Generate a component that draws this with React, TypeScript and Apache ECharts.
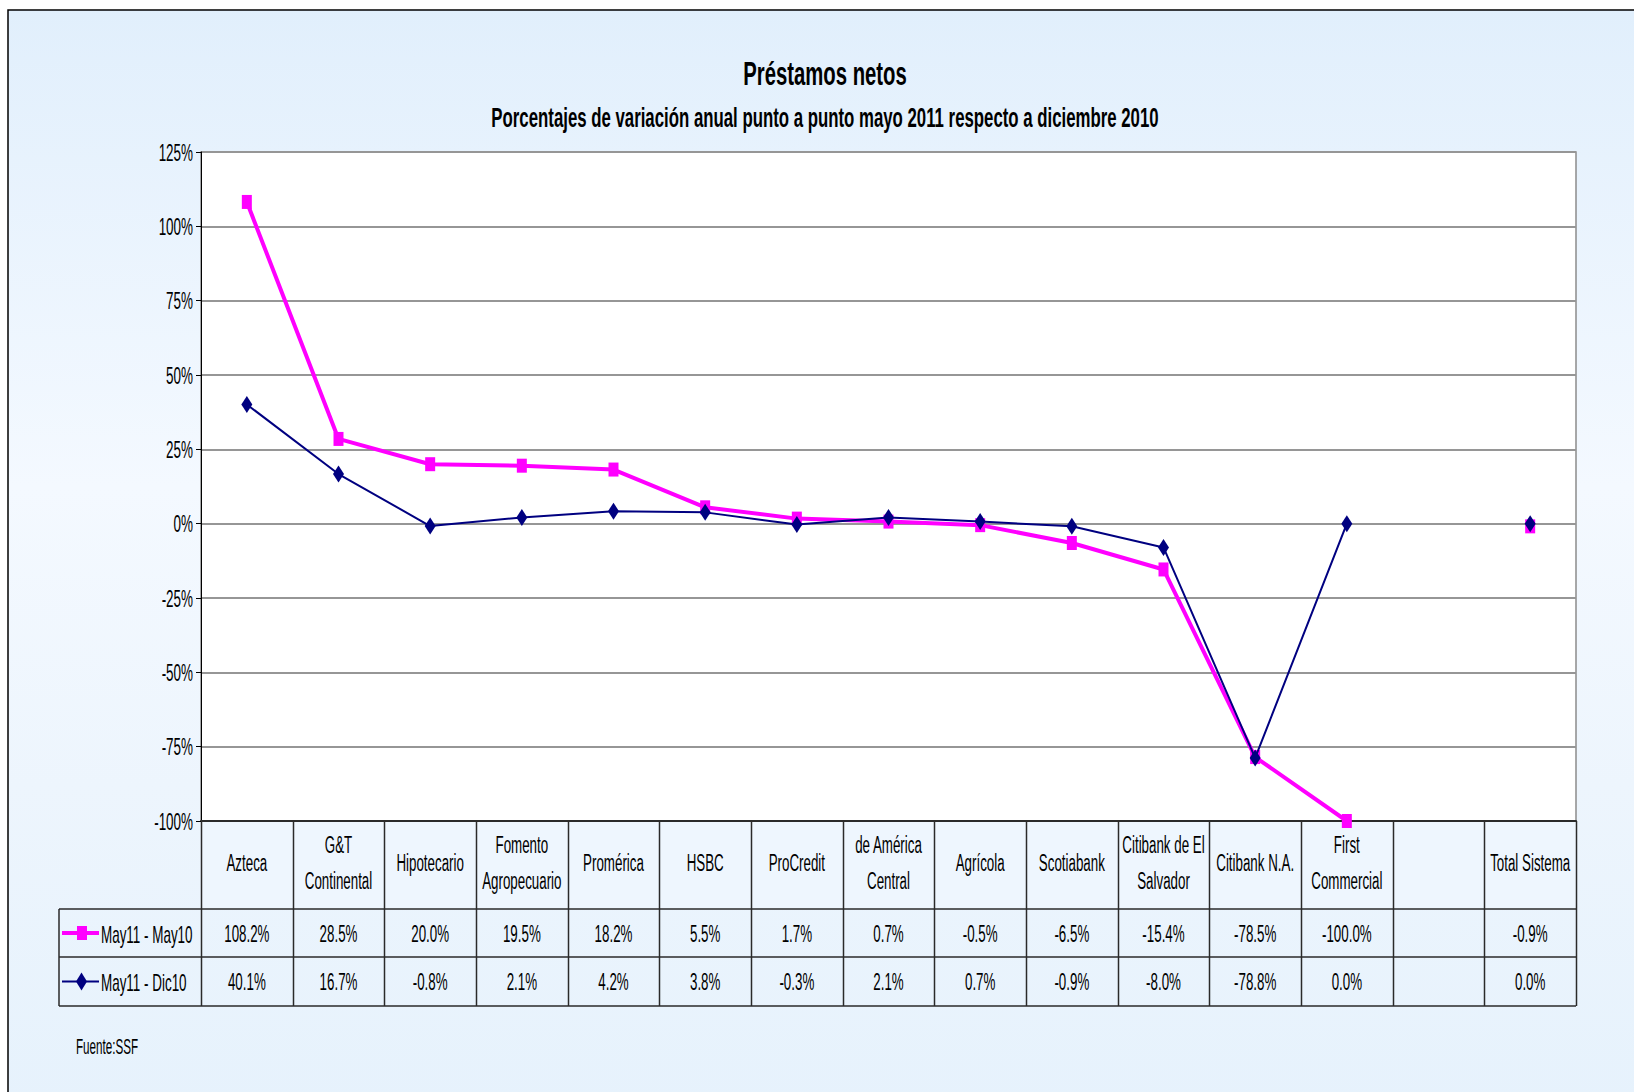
import React, { useEffect, useRef } from "react";
import * as echarts from "echarts";

const categories = [
  "Azteca",
  "G&T\nContinental",
  "Hipotecario",
  "Fomento\nAgropecuario",
  "Promérica",
  "HSBC",
  "ProCredit",
  "de América\nCentral",
  "Agrícola",
  "Scotiabank",
  "Citibank de El\nSalvador",
  "Citibank N.A.",
  "First\nCommercial",
  "",
  "Total Sistema",
];
const seriesNames = ["May11 - May10", "May11 - Dic10"];
const may11May10 = [108.2, 28.5, 20.0, 19.5, 18.2, 5.5, 1.7, 0.7, -0.5, -6.5, -15.4, -78.5, -100.0, null, -0.9];
const may11Dic10 = [40.1, 16.7, -0.8, 2.1, 4.2, 3.8, -0.3, 2.1, 0.7, -0.9, -8.0, -78.8, 0.0, null, 0.0];
const yTicks = [125, 100, 75, 50, 25, 0, -25, -50, -75, -100];
const yMin = -100;
const yMax = 125;
const yStep = 25;
const titleText = "Préstamos netos";
const subtitleText = "Porcentajes de variación anual punto a punto mayo 2011 respecto a diciembre 2010";
const sourceText = "Fuente:SSF";

const FONT = "'Liberation Sans', Arial, sans-serif";
const SX = 0.58;
const MAGENTA = "#FF00FF";
const NAVY = "#000080";

const W = 1634;
const H = 1092;
const GL = 201;
const GR = 1576;
const GT = 152;
const GB = 821;
const ROW1 = 909;
const ROW2 = 957;
const ROW3 = 1006;
const TL = 59;

const fmt = (v: number | null) => (v === null || v === undefined ? "" : v.toFixed(1) + "%");

function txt(text: string, x: number, y: number, size: number, align: string, bold = false, sx = SX, lh?: number) {
  return {
    type: "text",
    silent: true,
    x,
    y,
    scaleX: sx,
    z: 50,
    style: {
      text,
      font: `${bold ? "bold " : ""}${size}px ${FONT}`,
      fill: "#000",
      align,
      verticalAlign: "middle",
      lineHeight: lh || Math.round(size * 1.2),
    },
  };
}

export default function App() {
  const ref = useRef<HTMLDivElement>(null);
  useEffect(() => {
    document.body.style.margin = "0";
    const chart = echarts.init(ref.current!, null, { renderer: "svg" });
    const n = categories.length;

    chart.setOption({
      animation: false,
      backgroundColor: "#ffffff",
      grid: {
        left: GL,
        top: GT,
        width: GR - GL,
        height: GB - GT,
        show: true,
        backgroundColor: "#ffffff",
        borderColor: "#8c8c8c",
        borderWidth: 1.5,
        containLabel: false,
      },
      xAxis: {
        type: "category",
        data: categories,
        boundaryGap: true,
        axisLine: { show: true, onZero: false, lineStyle: { color: "#2a2a2a", width: 2 } },
        axisTick: { show: false },
        axisLabel: { show: false },
        splitLine: { show: false },
      },
      yAxis: {
        type: "value",
        min: yMin,
        max: yMax,
        interval: yStep,
        axisLine: { show: true, lineStyle: { color: "#000", width: 1 } },
        axisTick: { show: true, length: 5, lineStyle: { color: "#000" } },
        axisLabel: { show: false },
        splitLine: { show: true, lineStyle: { color: "#969696", width: 2 } },
      },
      series: [
        {
          name: seriesNames[0],
          type: "line",
          data: may11May10,
          connectNulls: false,
          clip: false,
          symbol: "rect",
          symbolSize: [10, 14],
          showAllSymbol: true,
          lineStyle: { color: MAGENTA, width: 4 },
          itemStyle: { color: MAGENTA },
          z: 3,
        },
        {
          name: seriesNames[1],
          type: "line",
          data: may11Dic10,
          connectNulls: false,
          clip: false,
          symbol: "diamond",
          symbolSize: [11, 17],
          showAllSymbol: true,
          lineStyle: { color: NAVY, width: 2 },
          itemStyle: { color: NAVY },
          z: 4,
        },
      ],
    });

    const colX = categories.map((_c, i) => chart.convertToPixel({ xAxisIndex: 0 }, i) as number);
    const colW = (GR - GL) / n;
    const lineStyle = { stroke: "#2a2a2a", lineWidth: 1.5 };
    const g: any[] = [];
    g.push({
      type: "rect",
      z: -20,
      silent: true,
      shape: { x: 8, y: 10, width: W + 100, height: H + 100 },
      style: {
        fill: new echarts.graphic.LinearGradient(0, 0, 0, 1, [
          { offset: 0, color: "#E1EFFC" },
          { offset: 0.4, color: "#F4F9FF" },
          { offset: 0.65, color: "#EDF5FD" },
          { offset: 1, color: "#E4F1FC" },
        ]),
        stroke: "#000",
        lineWidth: 1.5,
      },
    });
    g.push({
      type: "rect",
      z: -15,
      silent: true,
      shape: { x: GL, y: GB, width: GR - GL, height: ROW1 - GB },
      style: { fill: "#EEF6FE" },
    });
    [ROW1, ROW2, ROW3].forEach((y) =>
      g.push({ type: "line", silent: true, shape: { x1: TL, y1: y, x2: GR, y2: y }, style: lineStyle })
    );
    g.push({ type: "line", silent: true, shape: { x1: TL, y1: ROW1, x2: TL, y2: ROW3 }, style: lineStyle });
    for (let k = 0; k <= n; k++) {
      const x = Math.round(GL + k * colW) + 0.5;
      g.push({ type: "line", silent: true, shape: { x1: x, y1: GB, x2: x, y2: ROW3 }, style: lineStyle });
    }
    // titles
    g.push(txt(titleText, W / 2 + 8, 74, 33, "center", true, 0.615));
    g.push(txt(subtitleText, W / 2 + 8, 117, 28, "center", true, 0.6));
    // y labels
    yTicks.forEach((v) => {
      const y = chart.convertToPixel({ yAxisIndex: 0 }, v) as number;
      g.push(txt(v + "%", GL - 8, y, 24, "right", false, 0.56));
    });
    // header + values
    const r1 = (ROW1 + ROW2) / 2;
    const r2 = (ROW2 + ROW3) / 2;
    categories.forEach((c, i) => {
      if (c) g.push(txt(c, colX[i], (GB + ROW1) / 2 - 2, 23, "center", false, SX, 36));
      const a = fmt(may11May10[i]);
      const b = fmt(may11Dic10[i]);
      if (a) g.push(txt(a, colX[i], r1 + 1, 23, "center"));
      if (b) g.push(txt(b, colX[i], r2 + 1, 23, "center"));
    });
    // legend keys
    [
      { y: r1, color: MAGENTA, w: 4, sym: "rect", name: seriesNames[0] },
      { y: r2, color: NAVY, w: 2, sym: "diamond", name: seriesNames[1] },
    ].forEach((r) => {
      g.push({ type: "line", silent: true, shape: { x1: 62, y1: r.y, x2: 99, y2: r.y }, style: { stroke: r.color, lineWidth: r.w } });
      if (r.sym === "rect") {
        g.push({ type: "rect", silent: true, shape: { x: 77, y: r.y - 7, width: 10, height: 14 }, style: { fill: r.color } });
      } else {
        g.push({
          type: "polygon",
          silent: true,
          shape: { points: [[81.5, r.y - 9], [87, r.y], [81.5, r.y + 9], [76, r.y]] },
          style: { fill: r.color },
        });
      }
      g.push(txt(r.name, 101, r.y + 1, 24, "left", false, 0.56));
    });
    g.push(txt(sourceText, 76, 1047, 22, "left", false, 0.53));

    chart.setOption({ graphic: g });
    return () => chart.dispose();
  }, []);
  return <div ref={ref} style={{ width: W, height: H }} />;
}
